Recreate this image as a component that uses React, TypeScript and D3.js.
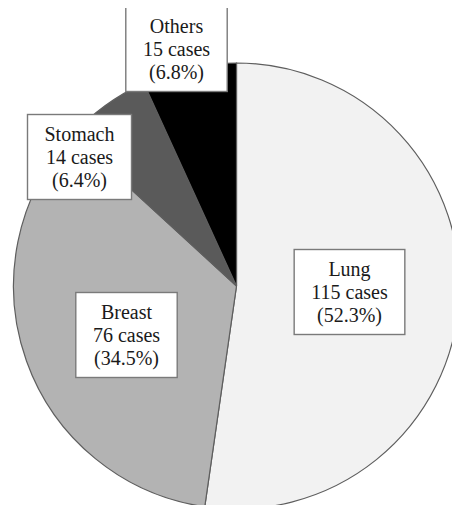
import React, { useEffect, useRef } from 'react';
import * as d3 from 'd3';

const sites = ['Lung', 'Breast', 'Stomach', 'Others'];
const cases = [115, 76, 14, 15];
const percents = ['52.3%', '34.5%', '6.4%', '6.8%'];
const fills = ['#f2f2f2', '#b3b3b3', '#5a5a5a', '#000000'];

const width = 460;
const height = 513;

const App = () => {
  const svgRef = useRef(null);

  useEffect(() => {
    const svg = d3.select(svgRef.current);
    svg.selectAll('*').remove();

    const cx = 236.5;
    const cy = 286;
    const radius = 223;

    const data = sites.map((s, i) => ({ site: s, n: cases[i], pct: percents[i], fill: fills[i] }));

    const pie = d3.pie().sort(null).value(d => d.n);
    const arc = d3.arc().innerRadius(0).outerRadius(radius);
    const arcs = pie(data);

    const g = svg.append('g').attr('transform', `translate(${cx},${cy})`);

    g.selectAll('path')
      .data(arcs)
      .join('path')
      .attr('d', arc)
      .attr('fill', d => d.data.fill)
      .attr('stroke', '#5e5e5e')
      .attr('stroke-width', 1.2);

    // label box centres, relative to pie centre
    const labelCenter = {
      Lung: [113, 6],
      Breast: [-110, 49],
      Stomach: [-157, -129],
      Others: [-60, -237],
    };

    const labels = g.selectAll('g.label')
      .data(arcs)
      .join('g')
      .attr('class', 'label')
      .attr('transform', d => `translate(${labelCenter[d.data.site][0]},${labelCenter[d.data.site][1]})`);

    const rects = labels.append('rect')
      .attr('fill', '#fff')
      .attr('stroke', '#7a7a7a')
      .attr('stroke-width', 1.4);

    const texts = labels.append('text')
      .attr('text-anchor', 'middle')
      .style('font-family', "'Liberation Serif', 'DejaVu Serif', serif")
      .style('font-size', '20px')
      .attr('fill', '#1a1a1a');

    texts.each(function (d) {
      const t = d3.select(this);
      const lines = [d.data.site, `${d.data.n} cases`, `(${d.data.pct})`];
      lines.forEach((line, i) => {
        t.append('tspan')
          .attr('x', 0)
          .attr('y', 7 + (i - 1) * 23)
          .text(line);
      });
    });

    rects.each(function () {
      const node = this.parentNode.querySelector('text');
      const bb = node.getBBox();
      const w = bb.width + 34;
      const h = 85;
      d3.select(this)
        .attr('x', -w / 2)
        .attr('y', -h / 2)
        .attr('width', w)
        .attr('height', h);
    });
  }, []);

  return <svg ref={svgRef} width={width} height={height} style={{ display: 'block', margin: '-8px' }} />;
};

export default App;
